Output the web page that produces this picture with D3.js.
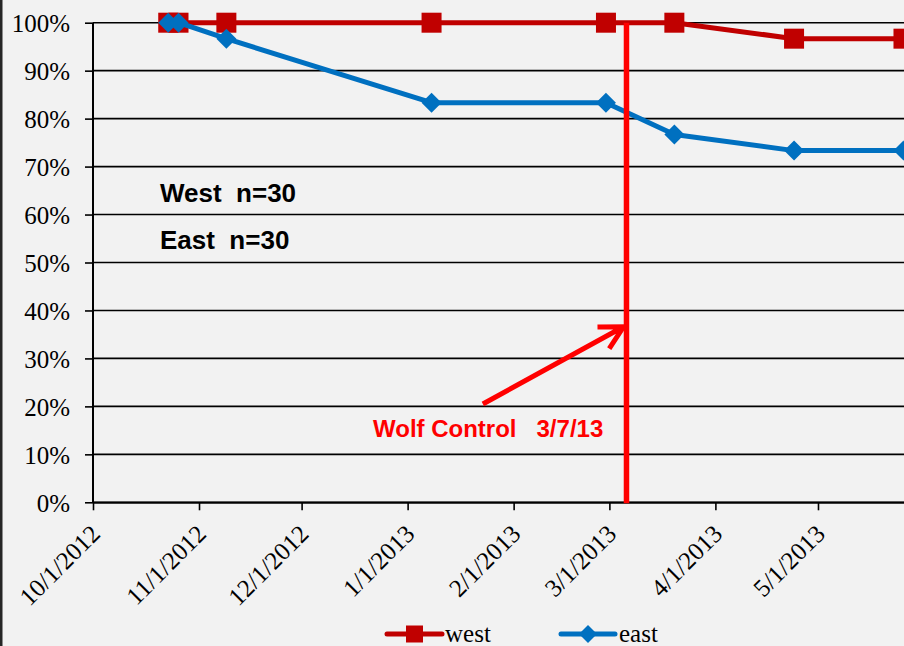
<!DOCTYPE html>
<html>
<head>
<meta charset="utf-8">
<script src="https://cdn.jsdelivr.net/npm/d3@7"></script>
<style>
	html, body { margin: 0; padding: 0; background: #f2f2f2; }
	svg { display: block; }
	.serif { font-family: "Liberation Serif", "Times New Roman", serif; }
	.sans { font-family: "Liberation Sans", Arial, sans-serif; font-weight: bold; white-space: pre; }
</style>
</head>
<body>
<div id="chart"></div>
<script>
// survey dates and survival (%) per group
var surveyDates = ["2012-10-23", "2012-10-26", "2012-11-09", "2013-01-08", "2013-02-28", "2013-03-20", "2013-04-24", "2013-05-26"];
var westValues = [100, 100, 100, 100, 100, 100, 96.67, 96.67];
var eastValues = [100, 100, 96.67, 83.33, 83.33, 76.67, 73.33, 73.33];

// axis ticks
var xTickDates = ["2012-10-01", "2012-11-01", "2012-12-01", "2013-01-01", "2013-02-01", "2013-03-01", "2013-04-01", "2013-05-01"];
var yTickValues = [0, 10, 20, 30, 40, 50, 60, 70, 80, 90, 100];

// wolf control event
var controlDate = "2013-03-06";
var controlLabel = "Wolf Control   3/7/13";
var arrowFrom = { date: "2013-01-23", value: 20.5 };
var arrowTo = { date: "2013-03-06", value: 36.6 };

var groupNotes = ["West  n=30", "East  n=30"];

var width = 904, height = 646;
var margin = { top: 22.7, left: 93, bottom: 502.3 };

var parse = d3.timeParse("%Y-%m-%d");
var fmt = d3.timeFormat("%-m/%-d/%Y");

var svg = d3.select("#chart").append("svg")
	.attr("width", width)
	.attr("height", height);

svg.append("rect").attr("width", width).attr("height", height).attr("fill", "#f2f2f2");
// dark frame edge on the left
svg.append("rect").attr("x", 0).attr("y", 0).attr("width", 2.5).attr("height", height).attr("fill", "#262626");

var x = d3.scaleTime()
	.domain([parse("2012-10-01"), parse("2013-06-01")])
	.range([margin.left, 924]);

var y = d3.scaleLinear()
	.domain([0, 100])
	.range([margin.bottom, margin.top]);

// horizontal grid
svg.append("g").selectAll("line").data(yTickValues).enter().append("line")
	.attr("x1", margin.left).attr("x2", width)
	.attr("y1", d => y(d)).attr("y2", d => y(d))
	.attr("stroke", "#000").attr("stroke-width", 1.6);

// y axis
var yAxis = svg.append("g")
	.attr("class", "serif")
	.attr("transform", "translate(" + margin.left + ",0)")
	.call(d3.axisLeft(y).tickValues(yTickValues).tickFormat(d => d + "%").tickSize(8).tickPadding(15));
yAxis.select(".domain").attr("stroke", "#000").attr("stroke-width", 2).attr("d", "M0," + margin.top + "V" + margin.bottom);
yAxis.selectAll("line").attr("stroke", "#000").attr("stroke-width", 1.6);
yAxis.selectAll("text").attr("font-size", 25).attr("fill", "#000").attr("dy", "0.35em");

// x axis
var xAxis = svg.append("g")
	.attr("class", "serif")
	.attr("transform", "translate(0," + margin.bottom + ")")
	.call(d3.axisBottom(x).tickValues(xTickDates.map(parse)).tickFormat(fmt).tickSize(8).tickSizeOuter(0));
xAxis.select(".domain").attr("stroke", "#000").attr("stroke-width", 2);
xAxis.selectAll("line").attr("stroke", "#000").attr("stroke-width", 1.6);
xAxis.selectAll("text")
	.attr("font-size", 25).attr("fill", "#000")
	.attr("text-anchor", "end")
	.attr("y", 0).attr("dy", 0)
	.attr("transform", "translate(8,33) rotate(-45)");

// series
function seriesData(values) {
	return surveyDates.map((d, i) => ({ date: parse(d), value: values[i] }));
}
var line = d3.line().x(d => x(d.date)).y(d => y(d.value));

var westData = seriesData(westValues);
var eastData = seriesData(eastValues);

svg.append("path").datum(westData)
	.attr("d", line).attr("fill", "none")
	.attr("stroke", "#c00000").attr("stroke-width", 5).attr("stroke-linejoin", "round");
svg.append("g").selectAll("rect").data(westData).enter().append("rect")
	.attr("x", d => x(d.date) - 10).attr("y", d => y(d.value) - 10)
	.attr("width", 20).attr("height", 20)
	.attr("fill", "#c00000");

svg.append("path").datum(eastData)
	.attr("d", line).attr("fill", "none")
	.attr("stroke", "#0070c0").attr("stroke-width", 5).attr("stroke-linejoin", "round");
var diamond = "M0,-10L10,0L0,10L-10,0Z";
svg.append("g").selectAll("path").data(eastData).enter().append("path")
	.attr("d", diamond)
	.attr("transform", d => "translate(" + x(d.date) + "," + y(d.value) + ")")
	.attr("fill", "#0070c0");

// group notes
svg.append("g").selectAll("text").data(groupNotes).enter().append("text")
	.attr("class", "sans")
	.attr("x", 160).attr("y", (d, i) => 201.5 + i * 47.5)
	.attr("font-size", 26).attr("fill", "#000")
	.text(d => d);

// wolf control marker
var cx = x(parse(controlDate));
svg.append("line")
	.attr("x1", cx).attr("x2", cx)
	.attr("y1", y(100)).attr("y2", y(0) + 1)
	.attr("stroke", "#ff0000").attr("stroke-width", 5.5);

var ax0 = x(parse(arrowFrom.date)), ay0 = y(arrowFrom.value);
var ax1 = x(parse(arrowTo.date)) - 3, ay1 = y(arrowTo.value);
var ang = Math.atan2(ay0 - ay1, ax0 - ax1);
var headLen = 26, spread = 28 * Math.PI / 180;
var arrowPath = d3.path();
arrowPath.moveTo(ax0, ay0);
arrowPath.lineTo(ax1, ay1);
arrowPath.moveTo(ax1 + headLen * Math.cos(ang + spread), ay1 + headLen * Math.sin(ang + spread));
arrowPath.lineTo(ax1, ay1);
arrowPath.lineTo(ax1 + headLen * Math.cos(ang - spread), ay1 + headLen * Math.sin(ang - spread));
svg.append("path")
	.attr("d", arrowPath.toString())
	.attr("fill", "none").attr("stroke", "#ff0000").attr("stroke-width", 5)
	.attr("stroke-linecap", "butt").attr("stroke-linejoin", "miter");

svg.append("text")
	.attr("class", "sans")
	.attr("x", 373).attr("y", 437)
	.attr("font-size", 24).attr("fill", "#ff0000")
	.text(controlLabel);

// legend
var legend = svg.append("g").attr("class", "serif");
var lw = legend.append("g").attr("transform", "translate(387,634)");
lw.append("line").attr("x1", 0).attr("x2", 55).attr("stroke", "#c00000").attr("stroke-width", 5).attr("stroke-linecap", "round");
lw.append("rect").attr("x", 19).attr("y", -8.5).attr("width", 17).attr("height", 17).attr("fill", "#c00000");
lw.append("text").attr("x", 58).attr("y", 8).attr("font-size", 25).attr("fill", "#000").text("west");

var le = legend.append("g").attr("transform", "translate(561,634)");
le.append("line").attr("x1", 0).attr("x2", 54).attr("stroke", "#0070c0").attr("stroke-width", 5).attr("stroke-linecap", "round");
le.append("path").attr("d", "M27,-9L36,0L27,9L18,0Z").attr("fill", "#0070c0");
le.append("text").attr("x", 58).attr("y", 8).attr("font-size", 25).attr("fill", "#000").text("east");
</script>
</body>
</html>
